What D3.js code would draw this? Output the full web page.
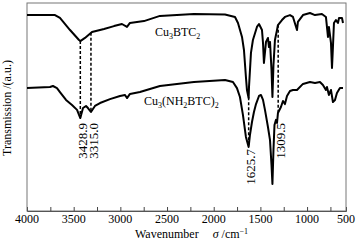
<!DOCTYPE html>
<html>
<head>
<meta charset="utf-8">
<script src="https://cdn.jsdelivr.net/npm/d3@7"></script>
<style>
  body { margin: 0; background: #fff; }
  text { font-family: "Liberation Serif", "Times New Roman", serif; fill: #000; }
</style>
</head>
<body>
<div class="vis-ir"></div>
<script>
// Cu3BTC2 spectrum: wavenumber (cm-1) / transmission (a.u.)
const btcWave = [4000, 3700, 3647, 3539, 3443, 3429, 3379, 3304, 3175, 3068, 2983, 2929, 2897, 2747, 2576, 2212,
    1879, 1772, 1740, 1697, 1676, 1655, 1644, 1626, 1622, 1601, 1580, 1537, 1515, 1483, 1472, 1462, 1440, 1419,
    1408, 1397, 1381, 1371, 1360, 1344, 1322, 1312, 1269, 1237, 1183, 1151, 1108, 1098, 1044, 969, 915, 841,
    798, 776, 766, 744, 733, 723, 712, 691, 669, 658, 626, 615];
const btcTrans = [94.2, 94.2, 92.8, 87.0, 82.2, 81.7, 83.2, 86.1, 87.5, 88.9, 89.9, 88.5, 90.4, 91.3, 93.8, 94.7,
    94.5, 93.3, 90.4, 83.7, 77.4, 64.4, 58.2, 54.3, 59.6, 76.0, 82.2, 88.5, 89.9, 87.0, 80.8, 71.2, 81.3, 83.2,
    78.8, 81.3, 67.8, 54.8, 70.2, 82.2, 87.0, 89.4, 91.8, 93.3, 94.2, 93.3, 87.0, 90.9, 94.2, 95.2, 94.2, 94.7,
    93.3, 83.7, 88.5, 80.8, 68.8, 78.8, 90.4, 91.8, 90.4, 92.8, 92.8, 90.4];

// Cu3(NH2BTC)2 spectrum
const nh2Wave = [4000, 3754, 3722, 3679, 3647, 3582, 3518, 3464, 3429, 3400, 3368, 3347, 3315, 3272, 3218, 3111,
    3004, 2950, 2929, 2897, 2790, 2576, 2212, 1879, 1794, 1751, 1719, 1687, 1655, 1626, 1612, 1590, 1569, 1547,
    1515, 1494, 1472, 1451, 1419, 1397, 1381, 1371, 1360, 1349, 1333, 1322, 1312, 1280, 1258, 1237, 1215, 1183,
    1151, 1108, 1044, 969, 915, 862, 830, 798, 787, 766, 744, 723, 701, 680, 648, 615];
const nh2Trans = [59.1, 59.6, 60.1, 59.1, 57.2, 53.4, 51.0, 48.6, 44.7, 49.5, 50.5, 49.5, 47.6, 50.5, 51.9, 53.8,
    55.3, 55.8, 54.3, 56.3, 57.2, 60.1, 62.0, 63.0, 62.0, 59.1, 54.8, 46.2, 35.6, 30.8, 36.5, 42.8, 47.6, 51.4,
    55.3, 55.8, 53.4, 48.6, 40.4, 34.1, 22.1, 13.0, 29.3, 41.3, 43.8, 42.3, 47.1, 50.0, 52.9, 51.4, 55.3, 57.7,
    58.2, 58.2, 61.1, 62.0, 61.5, 62.0, 60.6, 58.2, 59.6, 55.8, 58.2, 52.4, 53.4, 56.7, 59.1, 59.1];

// marked peaks (dashed guides)
const peakWave = [3428.9, 3315.0, 1625.7, 1309.5];
const peakLabels = ["3428.9", "3315.0", "1625.7", "1309.5"];

const xTickLabels = ["4000", "3500", "3000", "2500", "2000", "1500", "1000", "500"];
const xEnd = 583; // right edge of the frame

const margin = { top: 3, right: 12, bottom: 31, left: 27 };
const width = 358 - margin.left - margin.right;
const height = 242 - margin.top - margin.bottom;

const svg = d3.select(".vis-ir")
    .append("svg")
    .attr("width", 358)
    .attr("height", 242)
    .append("g")
    .attr("transform", "translate(" + margin.left + "," + margin.top + ")");

const x = d3.scaleLinear().domain([4000, xEnd]).range([0, width]);
const y = d3.scaleLinear().domain([0, 100]).range([height, 0]);

// frame
svg.append("rect")
    .attr("width", width)
    .attr("height", height)
    .attr("fill", "none")
    .attr("stroke", "#777")
    .attr("stroke-width", 1);

// ticks (inward, every 250)
svg.append("g")
    .attr("transform", "translate(0," + height + ")")
    .call(d3.axisBottom(x).tickValues(d3.range(3750, 700, -250)).tickSize(-4).tickFormat(""))
    .call(g => g.select(".domain").attr("stroke", "#555"))
    .call(g => g.selectAll(".tick line").attr("stroke", "#444"));

// tick labels; the last one sits at the frame edge
const labelPos = d3.range(4000, 999, -500).concat([xEnd]);
svg.append("g")
    .selectAll("text")
    .data(labelPos)
    .enter()
    .append("text")
    .attr("x", d => x(d))
    .attr("y", height + 12)
    .attr("text-anchor", "middle")
    .style("font-size", "12px")
    .text((d, i) => xTickLabels[i]);

// spectra
const line = d3.line().x(d => x(d[0])).y(d => y(d[1]));
const seriesBtc = btcWave.map((w, i) => [w, btcTrans[i]]);
const seriesNh2 = nh2Wave.map((w, i) => [w, nh2Trans[i]]);

[seriesBtc, seriesNh2].forEach(s => {
    svg.append("path")
        .datum(s)
        .attr("fill", "none")
        .attr("stroke", "#000")
        .attr("stroke-width", 2)
        .attr("stroke-linejoin", "round")
        .attr("d", line);
});

// value of a spectrum at a given wavenumber
function valueAt(s, w) {
    const interp = d3.scaleLinear().domain(s.map(d => d[0])).range(s.map(d => d[1]));
    return interp(w);
}

// dashed guides + peak labels
peakWave.forEach((w, i) => {
    svg.append("line")
        .attr("x1", x(w)).attr("x2", x(w))
        .attr("y1", y(valueAt(seriesBtc, w)))
        .attr("y2", y(valueAt(seriesNh2, w)))
        .attr("stroke", "#000")
        .attr("stroke-width", 1.5)
        .attr("stroke-dasharray", "3,2");
    const ly = i === 2 ? 146 : 120;
    svg.append("text")
        .attr("transform", "translate(" + (x(w) + 2) + "," + ly + ")rotate(-90)")
        .attr("dy", "0.35em")
        .attr("text-anchor", "end")
        .style("font-size", "13px")
        .text(peakLabels[i]);
});

// series names
const name1 = svg.append("text").attr("x", 128).attr("y", 33).style("font-size", "12px");
name1.append("tspan").text("Cu");
name1.append("tspan").attr("dy", 3).style("font-size", "8px").text("3");
name1.append("tspan").attr("dy", -3).text("BTC");
name1.append("tspan").attr("dy", 3).style("font-size", "8px").text("2");

const name2 = svg.append("text").attr("x", 117).attr("y", 102).style("font-size", "12px");
name2.append("tspan").text("Cu");
name2.append("tspan").attr("dy", 3).style("font-size", "8px").text("3");
name2.append("tspan").attr("dy", -3).text("(NH");
name2.append("tspan").attr("dy", 3).style("font-size", "8px").text("2");
name2.append("tspan").attr("dy", -3).text("BTC)");
name2.append("tspan").attr("dy", 3).style("font-size", "8px").text("2");

// axis titles
const xt = svg.append("text").attr("x", 108).attr("y", height + 27).style("font-size", "12px");
xt.append("tspan").text("Wavenumber");
xt.append("tspan").attr("dx", 14).style("font-style", "italic").text("σ");
xt.append("tspan").text(" /cm");
xt.append("tspan").attr("dy", -4).style("font-size", "8px").text("−1");

svg.append("text")
    .attr("transform", "translate(" + (-20) + "," + (height / 2 + 1) + ")rotate(-90)")
    .attr("dy", "0.35em")
    .attr("text-anchor", "middle")
    .style("font-size", "12px")
    .text("Transmission /(a.u.)");
</script>
</body>
</html>
